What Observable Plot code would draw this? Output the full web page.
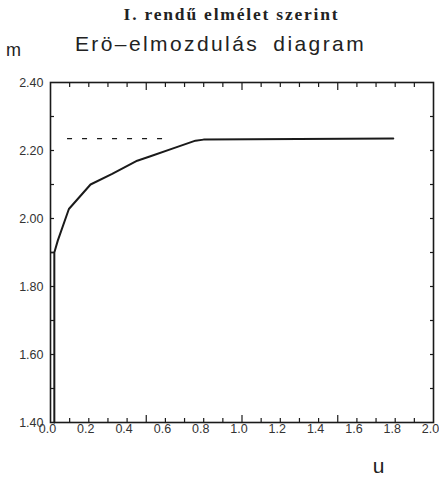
<!DOCTYPE html>
<html>
<head>
<meta charset="utf-8">
<script src="https://cdn.jsdelivr.net/npm/d3@7"></script>
<script src="https://cdn.jsdelivr.net/npm/@observablehq/plot@0.6"></script>
<style>
  html, body { margin: 0; padding: 0; background: white; }
  #wrap { position: relative; width: 439px; height: 479px; }
  #wrap svg { position: absolute; left: 0; top: 0; }
</style>
</head>
<body>
<div id="wrap"></div>
<script>
// --- data ---
const uValues = [0.02, 0.02, 0.038, 0.096, 0.209, 0.322, 0.453, 0.522, 0.644, 0.757, 0.799, 1.79];
const mValues = [1.40, 1.90, 1.935, 2.028, 2.10, 2.131, 2.17, 2.183, 2.207, 2.229, 2.232, 2.235];
const stepLevel = 1.90;          // short horizontal step at the start
const stepU = [0, 0.02];
const plateau = 2.235;           // dashed reference level
const plateauDashU = [0.089, 0.63];
const xLabelTicks = [0, 0.2, 0.4, 0.6, 0.8, 1.0, 1.2, 1.4, 1.6, 1.8, 2.0];
const xMinorTicks = [0.1, 0.2, 0.3, 0.4, 0.6, 0.7, 0.8, 0.9, 1.1, 1.2, 1.3, 1.4, 1.6, 1.7, 1.8, 1.9];
const xMajorTicks = [0.5, 1.0, 1.5];
const yLabelTicks = [1.40, 1.60, 1.80, 2.00, 2.20, 2.40];
const yMinorTicks = [1.5, 1.6, 1.7, 1.8, 1.9, 2.0, 2.1, 2.2, 2.3];
const xDomain = [0, 2];
const yDomain = [1.4, 2.4];
const titleText = "I. rendű elmélet szerint";
const subtitleText = "Erö–elmozdulás diagram";
const yAxisName = "m";
const xAxisName = "u";

const curve = uValues.map((u, i) => ({u, m: mValues[i]}));

const W = 439, H = 479, mL = 50, mR = 6, mT = 82, mB = 57;
const ink = "#1a1a1a";

// Plot 1: frame and inward ticks only (this combination renders reliably on its own)
const framePlot = Plot.plot({
  width: W, height: H,
  marginLeft: mL, marginRight: mR, marginTop: mT, marginBottom: mB,
  style: {background: "transparent"},
  x: {domain: xDomain, axis: null},
  y: {domain: yDomain, axis: null},
  marks: [
    Plot.frame({stroke: ink, strokeWidth: 1.6}),
    Plot.axisX(xMinorTicks, {anchor: "bottom", tickSize: -4, tickFormat: () => "", label: null, stroke: ink, strokeWidth: 1.2}),
    Plot.axisX(xMajorTicks, {anchor: "bottom", tickSize: -7, tickFormat: () => "", label: null, stroke: ink, strokeWidth: 1.2}),
    Plot.axisX(xMinorTicks, {anchor: "top", tickSize: -4, tickFormat: () => "", label: null, stroke: ink, strokeWidth: 1.2}),
    Plot.axisX(xMajorTicks, {anchor: "top", tickSize: -7, tickFormat: () => "", label: null, stroke: ink, strokeWidth: 1.2}),
    Plot.axisY(yMinorTicks, {anchor: "left", tickSize: -4, tickFormat: () => "", label: null, stroke: ink, strokeWidth: 1.2}),
    Plot.axisY(yMinorTicks, {anchor: "right", tickSize: -4, tickFormat: () => "", label: null, stroke: ink, strokeWidth: 1.2})
  ]
});

// Plot 2: data, labels and titles, same scales and margins
const dataPlot = Plot.plot({
  width: W, height: H,
  marginLeft: mL, marginRight: mR, marginTop: mT, marginBottom: mB,
  style: {background: "transparent", fontFamily: "Liberation Sans, Arial, sans-serif"},
  x: {domain: xDomain, axis: null},
  y: {domain: yDomain, axis: null},
  marks: [
    Plot.text(xLabelTicks, {x: d => d, frameAnchor: "bottom", lineAnchor: "top", dx: -3, dy: 2, text: d3.format(".1f"), fontSize: 12.5, fill: "#333"}),
    Plot.text(yLabelTicks, {y: d => d, frameAnchor: "left", textAnchor: "end", dx: -7, text: d3.format(".2f"), fontSize: 12.5, fill: "#333"}),
    Plot.text([titleText], {frameAnchor: "top-left", textAnchor: "middle", dx: 181, dy: -63, lineAnchor: "bottom", fontFamily: "Liberation Serif, serif", fontWeight: "bold", fontSize: 17.5, fill: "#222"}),
    Plot.text([subtitleText], {frameAnchor: "top-left", textAnchor: "middle", dx: 170, dy: -32, lineAnchor: "bottom", fontSize: 21, fill: "#222"}),
    Plot.text([yAxisName], {frameAnchor: "top-left", textAnchor: "middle", dx: -37, dy: -27, lineAnchor: "bottom", fontSize: 18, fill: "#222"}),
    Plot.text([xAxisName], {frameAnchor: "bottom-left", textAnchor: "middle", dx: 328, dy: 50, lineAnchor: "bottom", fontSize: 21, fill: "#222"}),
    Plot.ruleY([plateau], {x1: plateauDashU[0], x2: plateauDashU[1], stroke: ink, strokeWidth: 1.3, strokeDasharray: "5,10"}),
    Plot.ruleY([stepLevel], {x1: stepU[0], x2: stepU[1], stroke: ink, strokeWidth: 1.6}),
    Plot.line(curve, {x: "u", y: "m", stroke: ink, strokeWidth: 2, strokeLinejoin: "round"})
  ]
});

const wrap = document.getElementById("wrap");
wrap.style.background = "white";
wrap.appendChild(framePlot);
wrap.appendChild(dataPlot);

dataPlot.querySelectorAll("text").forEach(t => {
  if (t.textContent === titleText) t.setAttribute("letter-spacing", "1.8");
  if (t.textContent === subtitleText) { t.setAttribute("letter-spacing", "2.4"); t.setAttribute("word-spacing", "6"); }
});
</script>
</body>
</html>
